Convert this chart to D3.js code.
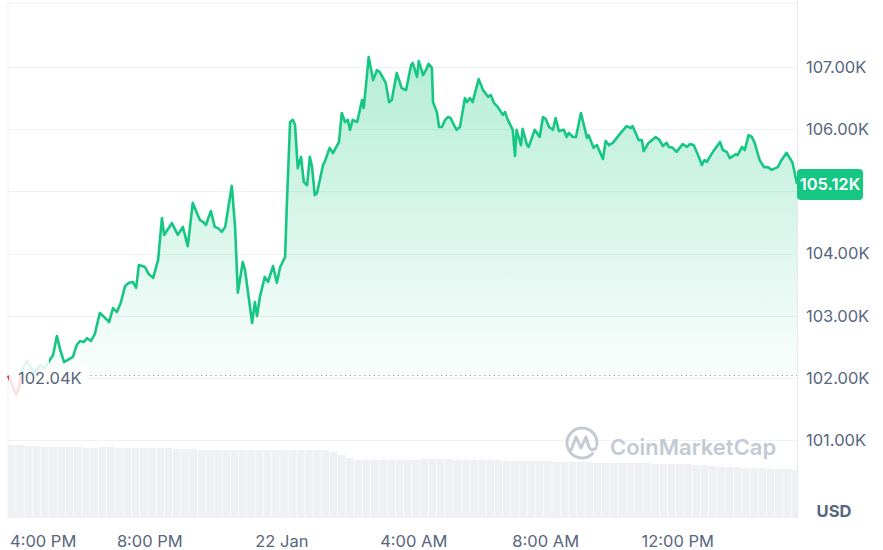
<!DOCTYPE html>
<html>
<head>
<meta charset="utf-8">
<script src="https://cdn.jsdelivr.net/npm/d3@7"></script>
<style>
html,body{margin:0;padding:0;background:#fff;}
svg{display:block;font-family:Inter, "Noto Sans", sans-serif;}
</style>
</head>
<body>
<svg id="chart" width="883" height="550"></svg>
<script>
// ---------------- DATA ----------------
const startTime = new Date(2025, 0, 21, 15, 42);
const endOffsetMin = 1435;
const baselinePrice = 102040;
const lastPrice = 105120;
// minutes after startTime
const minutes = [0,7,15,20,25,35,42,49,58,67,76,82,89,95,102,109,118,125,131,138,144,151,158,167,175,184,191,198,205,213,220,227,233,238,249,256,264,273,280,284,298,309,318,327,336,349,355,360,369,376,382,389,395,400,407,413,418,427,431,444,449,453,458,467,473,482,489,495,504,507,513,518,522,527,533,538,544,549,553,558,562,573,576,585,591,602,607,613,618,622,627,635,644,647,656,664,671,676,687,693,698,707,716,724,733,736,744,747,755,760,765,771,773,780,784,789,795,800,805,811,816,822,831,835,840,845,856,864,873,878,884,891,900,904,909,918,922,925,933,936,944,947,958,967,973,978,984,991,996,1002,1011,1016,1020,1027,1033,1042,1053,1056,1065,1071,1082,1087,1093,1100,1113,1125,1133,1136,1147,1153,1156,1165,1178,1185,1191,1198,1202,1209,1216,1227,1235,1240,1247,1255,1262,1267,1271,1282,1295,1300,1307,1313,1324,1327,1335,1340,1347,1353,1358,1367,1375,1382,1389,1400,1407,1416,1424,1427,1435];
// BTC price, USD
const prices = [102040,101890,101730,101840,102130,102270,102160,102080,102210,102160,102290,102370,102675,102450,102257,102290,102340,102530,102595,102580,102640,102595,102710,103045,102980,102900,103125,103060,103205,103480,103530,103545,103450,103815,103785,103670,103610,103900,104570,104300,104490,104300,104430,104120,104815,104540,104510,104460,104685,104430,104410,104350,104430,104700,105090,104430,103370,103865,103740,102885,103220,102995,103300,103625,103545,103800,103530,103785,103945,104750,106115,106150,106070,105375,105555,105150,105100,105555,105390,104940,104975,105425,105475,105700,105615,105795,106260,106115,106150,105990,106150,106115,106470,106340,107160,106790,106950,106920,106745,106435,106470,106905,106660,106630,107030,107065,106840,107095,106870,106950,107050,106985,106435,106275,106035,106035,106150,106195,106180,106070,105990,106035,106500,106435,106500,106435,106805,106630,106520,106550,106420,106355,106230,106275,106150,105990,105570,105990,105745,106005,105745,105715,105990,105875,106195,106165,106035,105990,106180,105970,105990,105875,105940,105875,105875,106260,105860,105905,105700,105745,105520,105810,105745,105780,105925,106050,106020,106050,105825,105825,105650,105780,105875,105825,105730,105780,105715,105700,105635,105760,105715,105760,105745,105585,105425,105505,105475,105635,105795,105665,105635,105535,105600,105585,105715,105665,105905,105875,105780,105505,105390,105390,105345,105390,105505,105620,105505,105455,105120];
// 24h volume (billion USD), one bar every 15 minutes
const volumeStepMin = 15;
const volumes = [73,73,72,72,71,71,71,71,71,70,70,71,71,70,70,70,70,70,70,70,69,69,69,68,68,68,68,68,68,68,68,68,68,68,68,68,68,68,68,66,63,60,58,58,58,58,58,58,58,58,59,59,59,59,58,58,58,58,58,58,57,57,57,57,57,57,56,56,56,56,56,55,55,55,55,55,55,55,54,54,54,54,54,53,53,52,51,51,51,50,50,50,49,49,49,48];
const priceTicks = [101000,102000,103000,104000,105000,106000,107000];
const timeTicks = [
  {t: new Date(2025,0,21,16,0), label: "4:00 PM"},
  {t: new Date(2025,0,21,20,0), label: "8:00 PM"},
  {t: new Date(2025,0,22,0,0), label: "22 Jan"},
  {t: new Date(2025,0,22,4,0), label: "4:00 AM"},
  {t: new Date(2025,0,22,8,0), label: "8:00 AM"},
  {t: new Date(2025,0,22,12,0), label: "12:00 PM"}
];
const currencyLabel = "USD";
const watermark = "CoinMarketCap";

// ---------------- CHART ----------------
const svg = d3.select("#chart");
const W = 883, H = 550;
const plotL = 8, plotR = 797, plotT = 3, volBottom = 518;
const GREEN = "#16c784", RED = "#ea3943", TXT = "#58667e", GRID = "#eff2f5";

const endTime = new Date(+startTime + endOffsetMin * 60000);
const x = d3.scaleTime().domain([startTime, endTime]).range([plotL, plotR]);
const y = d3.scaleLinear().domain([101000, 107000]).range([440.2, 67]);
const yv = d3.scaleLinear().domain([0, 80]).range([volBottom, volBottom - 80]);

const data = minutes.map((m, i) => ({t: new Date(+startTime + m * 60000), p: prices[i]}));

const defs = svg.append("defs");
const by = y(baselinePrice);
const gG = defs.append("linearGradient").attr("id", "gGreen").attr("gradientUnits", "userSpaceOnUse")
  .attr("x1", 0).attr("x2", 0).attr("y1", y(107200)).attr("y2", by);
gG.append("stop").attr("offset", 0).attr("stop-color", GREEN).attr("stop-opacity", 0.32);
gG.append("stop").attr("offset", 1).attr("stop-color", GREEN).attr("stop-opacity", 0.02);
const gR = defs.append("linearGradient").attr("id", "gRed").attr("gradientUnits", "userSpaceOnUse")
  .attr("x1", 0).attr("x2", 0).attr("y1", by).attr("y2", y(101600));
gR.append("stop").attr("offset", 0).attr("stop-color", RED).attr("stop-opacity", 0.02);
gR.append("stop").attr("offset", 1).attr("stop-color", RED).attr("stop-opacity", 0.25);
defs.append("clipPath").attr("id", "above").append("rect")
  .attr("x", 0).attr("y", 0).attr("width", W).attr("height", by);
defs.append("clipPath").attr("id", "below").append("rect")
  .attr("x", 0).attr("y", by).attr("width", W).attr("height", H - by);

// frame
svg.append("line").attr("x1", plotL).attr("x2", plotR).attr("y1", plotT).attr("y2", plotT)
  .attr("stroke", GRID).attr("stroke-width", 1.2);
svg.append("line").attr("x1", plotL).attr("x2", plotL).attr("y1", plotT).attr("y2", volBottom)
  .attr("stroke", GRID).attr("stroke-width", 1.2);
svg.append("line").attr("x1", plotR + 0.5).attr("x2", plotR + 0.5).attr("y1", 0).attr("y2", volBottom)
  .attr("stroke", "#e8ebef").attr("stroke-width", 1.2);

// grid
svg.append("g").selectAll("line").data(priceTicks).join("line")
  .attr("x1", plotL).attr("x2", plotR)
  .attr("y1", d => Math.round(y(d)) + 0.5).attr("y2", d => Math.round(y(d)) + 0.5)
  .attr("stroke", GRID).attr("stroke-width", 1.2);

// volume bars
const stepW = x(new Date(+startTime + volumeStepMin * 60000)) - x(startTime);
svg.append("g").selectAll("rect").data(volumes).join("rect")
  .attr("x", (d, i) => x(new Date(+startTime + i * volumeStepMin * 60000)))
  .attr("width", (d, i) => Math.max(0, Math.min(stepW - 0.6, plotR - x(new Date(+startTime + i * volumeStepMin * 60000)))))
  .attr("y", d => yv(d))
  .attr("height", d => volBottom - yv(d))
  .attr("fill", "#eef0f4");

// areas
const area = d3.area().x(d => x(d.t)).y0(by).y1(d => y(d.p));
svg.append("path").datum(data).attr("d", area).attr("fill", "url(#gGreen)").attr("clip-path", "url(#above)");
svg.append("path").datum(data).attr("d", area).attr("fill", "url(#gRed)").attr("clip-path", "url(#below)");

// baseline dotted
svg.append("line").attr("x1", plotL + 1).attr("x2", plotR).attr("y1", by).attr("y2", by)
  .attr("stroke", "#8a94a6").attr("stroke-width", 1.2).attr("stroke-dasharray", "1.2,3.6");

// lines
const line = d3.line().x(d => x(d.t)).y(d => y(d.p));
svg.append("path").datum(data).attr("d", line).attr("fill", "none").attr("stroke", GREEN)
  .attr("stroke-width", 2.6).attr("stroke-linejoin", "round").attr("clip-path", "url(#above)");
svg.append("path").datum(data).attr("d", line).attr("fill", "none").attr("stroke", RED)
  .attr("stroke-width", 2.6).attr("stroke-linejoin", "round").attr("clip-path", "url(#below)");

// baseline label with translucent background
svg.append("rect").attr("x", plotL + 1).attr("y", by - 28).attr("width", 40).attr("height", 55)
  .attr("fill", "#fff").attr("opacity", 0.85);
svg.append("rect").attr("x", 48).attr("y", by - 9).attr("width", 40).attr("height", 24)
  .attr("fill", "#fff").attr("opacity", 0.85);
svg.append("text").attr("x", 18).attr("y", by + 3).attr("dy", "0.35em")
  .attr("font-size", 16.5).attr("fill", TXT).text(d3.format(".2f")(baselinePrice / 1000) + "K");

// watermark
const wm = svg.append("g").attr("fill", "none").attr("stroke", "#c4cad4").attr("stroke-width", 3)
  .attr("stroke-linecap", "round").attr("stroke-linejoin", "round");
wm.append("path").attr("d", d3.arc()({innerRadius: 15, outerRadius: 15, startAngle: 2.35, endAngle: 2.35 + Math.PI * 1.8}))
  .attr("transform", "translate(582,443)");
wm.append("path").attr("d", "M571,450 L576,437 L581,448 L586,437 L589,447 Q591,452 596,448");
svg.append("text").attr("x", 610).attr("y", 447).attr("dy", "0.35em")
  .attr("font-size", 22).attr("font-weight", 600).attr("fill", "#c4cad4").text(watermark);

// current price badge position
const cy = y(lastPrice);

// y axis labels (the one hidden by the price badge is not shown, as in the reference)
svg.append("g").selectAll("text").data(priceTicks.filter(d => Math.abs(y(d) - cy) > 18)).join("text")
  .attr("x", 806).attr("y", d => y(d)).attr("dy", "0.35em")
  .attr("font-size", 16.5).attr("fill", TXT)
  .text(d => d3.format(".2f")(d / 1000) + "K");

// current price badge
svg.append("rect").attr("x", plotR).attr("y", cy - 15).attr("width", 66).attr("height", 31).attr("rx", 4)
  .attr("fill", GREEN);
svg.append("text").attr("x", plotR + 33).attr("y", cy).attr("dy", "0.36em").attr("text-anchor", "middle")
  .attr("font-size", 16.5).attr("font-weight", 600).attr("fill", "#fff")
  .text(d3.format(".2f")(lastPrice / 1000) + "K");

// x axis labels
const xl = svg.append("g").selectAll("text").data(timeTicks).join("text")
  .attr("x", d => x(d.t)).attr("y", 541).attr("dy", "0.35em").attr("text-anchor", "middle")
  .attr("font-size", 16.5).attr("fill", TXT).text(d => d.label);
xl.each(function() {
  const el = d3.select(this);
  const w = this.getComputedTextLength();
  const cx = +el.attr("x");
  if (cx - w / 2 < 10) el.attr("x", 10 + w / 2);
});

// currency
svg.append("text").attr("x", 834).attr("y", 511).attr("dy", "0.35em").attr("text-anchor", "middle")
  .attr("font-size", 16.5).attr("font-weight", 700).attr("fill", TXT).text(currencyLabel);
</script>
</body>
</html>
